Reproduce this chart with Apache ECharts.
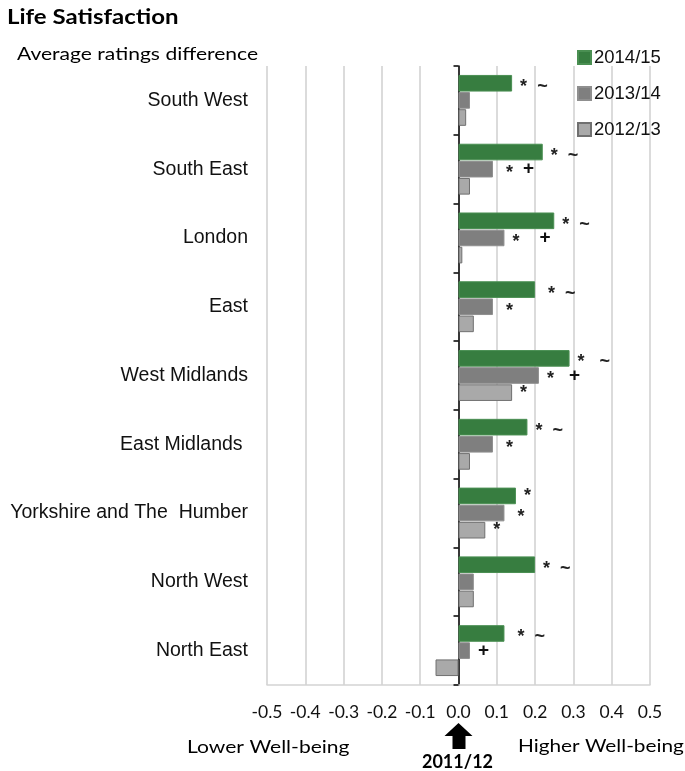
<!DOCTYPE html>
<html>
<head>
<meta charset="utf-8">
<script src="https://cdn.jsdelivr.net/npm/echarts@6/dist/echarts.min.js"></script>
<style>
html,body{margin:0;padding:0;background:#fff;}
#chart{width:685px;height:771px;}
</style>
</head>
<body>
<div id="chart"></div>
<script>
const regions = ['South West','South East','London','East','West Midlands','East Midlands ','Yorkshire and The  Humber','North West','North East'];
const seriesNames = ['2014/15','2013/14','2012/13'];
const v1415 = [0.14,0.22,0.25,0.20,0.29,0.18,0.15,0.20,0.12];
const v1314 = [0.03,0.09,0.12,0.09,0.21,0.09,0.12,0.04,0.03];
const v1213 = [0.02,0.03,0.01,0.04,0.14,0.03,0.07,0.04,-0.06];
const ann1415 = ['*  ~','*  ~','*  ~',' *  ~','*   ~','*  ~','*','*  ~',' *  ~'];
const ann1314 = ['',' *  +','*    +',' *','*   +',' *',' *','','+'];
const ann1213 = ['','','','','*','','*','',''];
const xTickLabels = ['-0.5','-0.4','-0.3','-0.2','-0.1','0.0','0.1','0.2','0.3','0.4','0.5'];
const titleText = 'Life Satisfaction';
const subText = 'Average ratings difference';
const lowText = 'Lower Well-being';
const highText = 'Higher Well-being';
const baseText = '2011/12';

const SANS = '"Liberation Sans", Arial, sans-serif';
const CAL = 'Lato, "Open Sans", sans-serif';

const chart = echarts.init(document.getElementById('chart'), null, {renderer:'canvas'});

function richify(s){
  return s.replace(/\*/g, '{s|*}').replace(/~/g, '{t|~}').replace(/\+/g, '{p|+}').replace(/ /g, '{g| }');
}
function labelFor(arr){
  return {
    show: true, position: 'right', distance: 8,
    fontFamily: SANS, fontSize: 18, fontWeight: 'bold', color: '#111',
    formatter: p => richify(arr[p.dataIndex]),
    rich: {
      s: {fontFamily: SANS, fontSize: 18, fontWeight: 'bold', color: '#222', lineHeight: 18, verticalAlign: 'bottom'},
      t: {fontFamily: SANS, fontSize: 18, fontWeight: 'bold', color: '#222', lineHeight: 18, verticalAlign: 'bottom'},
      p: {fontFamily: SANS, fontSize: 19, fontWeight: 'bold', color: '#111', lineHeight: 26, verticalAlign: 'middle'},
      g: {fontFamily: SANS, fontSize: 18, lineHeight: 26}
    }
  };
}

const option = {
  animation: false,
  backgroundColor: '#fff',
  legend: {
    orient: 'vertical', left: 572, top: 43,
    itemWidth: 13, itemHeight: 13, itemGap: 17,
    icon: 'rect',
    data: seriesNames,
    textStyle: {fontFamily: SANS, fontSize: 18.5, color: '#111', padding:[0,0,0,-2]}
  },
  grid: {left: 267, right: 35, top: 66, bottom: 86, containLabel: false},
  xAxis: {
    type: 'value', min: -0.5, max: 0.5, interval: 0.1,
    axisLine: {show: true, lineStyle: {color: '#d4d4d4', width: 1.5}},
    axisTick: {show: false},
    splitLine: {show: true, lineStyle: {color: '#cfcfcf', width: 1.5}},
    axisLabel: {
      margin: 18, fontFamily: CAL, fontSize: 17.5, color: '#111',
      formatter: v => xTickLabels[Math.round((v + 0.5) * 10)]
    }
  },
  yAxis: [
    {
      type: 'category', data: regions, inverse: true, position: 'left',
      axisLine: {show: false, onZero: false},
      axisTick: {show: false},
      splitLine: {show: false},
      axisLabel: {margin: 19, fontFamily: SANS, fontSize: 19.5, color: '#111'}
    },
    {
      type: 'category', data: regions, inverse: true, position: 'left',
      axisLine: {show: true, onZero: true, lineStyle: {color: '#000', width: 1.5}},
      axisTick: {show: true, length: 5, lineStyle: {color: '#000', width: 1.5}},
      splitLine: {show: false},
      axisLabel: {show: false}
    }
  ],
  series: [
    {
      name: seriesNames[0], type: 'bar', yAxisIndex: 0, data: v1415,
      barGap: '3%', barCategoryGap: '26%',
      itemStyle: {color: '#377d40', borderColor: '#4a8f52', borderWidth: 1},
      label: labelFor(ann1415)
    },
    {
      name: seriesNames[1], type: 'bar', yAxisIndex: 0, data: v1314,
      itemStyle: {color: '#7f7f7f', borderColor: '#8f8f8f', borderWidth: 1},
      label: labelFor(ann1314)
    },
    {
      name: seriesNames[2], type: 'bar', yAxisIndex: 0, data: v1213,
      itemStyle: {color: '#a9a9a9', borderColor: '#707070', borderWidth: 1},
      label: labelFor(ann1213)
    }
  ]
};
chart.setOption(option);

const x0 = chart.convertToPixel({xAxisIndex: 0}, 0);
function txt(text, x, y, font, sx, align){
  return {type: 'text', x: x, y: y, scaleX: sx, style: {text: text, font: font, fill: '#000', align: align || 'left', verticalAlign: 'middle'}};
}
chart.setOption({
  graphic: [
    txt(titleText, 7, 18, 'bold 20px ' + CAL, 1.2),
    txt(subText, 17, 54, '18px ' + CAL, 1.17),
    txt(lowText, 187, 747, '18px ' + CAL, 1.17),
    txt(highText, 518, 746, '18px ' + CAL, 1.155),
    {type: 'polygon', shape: {points: [[x0 - 14, 736], [x0, 723], [x0 + 14, 736], [x0 + 7, 736], [x0 + 7, 749], [x0 - 6, 749], [x0 - 6, 736]]}, style: {fill: '#000'}},
    txt(baseText, x0 - 1, 762, 'bold 18px ' + CAL, 1, 'center')
  ]
});
</script>
</body>
</html>
